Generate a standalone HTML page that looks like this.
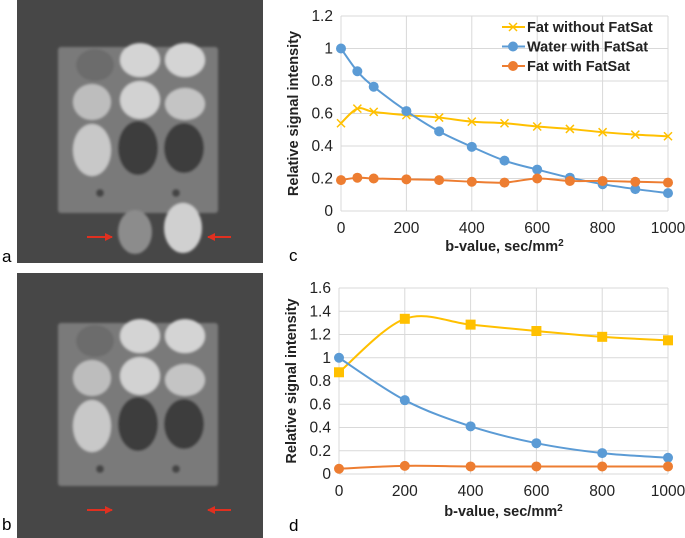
<!DOCTYPE html>
<html><head><meta charset="utf-8">
<style>
body{margin:0;background:#fff;width:685px;height:538px;overflow:hidden;font-family:"Liberation Sans",Arial,sans-serif}
svg{position:absolute;left:0;top:0}
text{font-family:"Liberation Sans",Arial,sans-serif}
</style></head><body>
<svg id="fig" width="685" height="538" viewBox="0 0 685 538">
<defs>
<filter id="bl" x="-20%" y="-20%" width="140%" height="140%"><feGaussianBlur stdDeviation="1.2"/></filter>
<marker id="ah" markerWidth="4" markerHeight="4" refX="3.5" refY="2" orient="auto"><path d="M0,0 L4,2 L0,4 z" fill="#e03020"/></marker>
</defs>
<!-- image a -->
<g>
<rect x="17" y="0" width="246" height="263" fill="#474747"/>
<g filter="url(#bl)">
<rect x="58" y="47" width="160" height="166" rx="3" fill="#7a7a7a"/>
<ellipse cx="95" cy="65" rx="19" ry="16" fill="#6c6c6c"/>
<ellipse cx="140" cy="60" rx="20" ry="17" fill="#d4d4d4"/>
<ellipse cx="185" cy="60" rx="20" ry="17" fill="#d4d4d4"/>
<ellipse cx="92" cy="102" rx="19" ry="18" fill="#bdbdbd"/>
<ellipse cx="140" cy="100" rx="20" ry="19" fill="#d2d2d2"/>
<ellipse cx="185" cy="104" rx="20" ry="16" fill="#c4c4c4"/>
<ellipse cx="92" cy="150" rx="19" ry="26" fill="#c8c8c8"/>
<ellipse cx="138" cy="148" rx="20" ry="27" fill="#3e3e3e"/>
<ellipse cx="184" cy="148" rx="20" ry="25" fill="#3e3e3e"/>
<circle cx="100" cy="193" r="4" fill="#444"/>
<circle cx="176" cy="193" r="4" fill="#444"/>
<ellipse cx="135" cy="232" rx="17" ry="22" fill="#8c8c8c"/>
<ellipse cx="183" cy="228" rx="19" ry="25" fill="#d0d0d0"/>
</g>
<line x1="87" y1="237" x2="112" y2="237" stroke="#e03020" stroke-width="2" marker-end="url(#ah)"/>
<line x1="231" y1="237" x2="208" y2="237" stroke="#e03020" stroke-width="2" marker-end="url(#ah)"/>
</g>
<text x="2" y="262" font-size="17">a</text>
<!-- image b -->
<g>
<rect x="17" y="273" width="246" height="265" fill="#474747"/>
<g transform="translate(0,276)" filter="url(#bl)">
<rect x="58" y="47" width="160" height="163" rx="3" fill="#7a7a7a"/>
<ellipse cx="95" cy="65" rx="19" ry="16" fill="#6c6c6c"/>
<ellipse cx="140" cy="60" rx="20" ry="17" fill="#d4d4d4"/>
<ellipse cx="185" cy="60" rx="20" ry="17" fill="#d4d4d4"/>
<ellipse cx="92" cy="102" rx="19" ry="18" fill="#bdbdbd"/>
<ellipse cx="140" cy="100" rx="20" ry="19" fill="#d2d2d2"/>
<ellipse cx="185" cy="104" rx="20" ry="16" fill="#c4c4c4"/>
<ellipse cx="92" cy="150" rx="19" ry="26" fill="#c8c8c8"/>
<ellipse cx="138" cy="148" rx="20" ry="27" fill="#3e3e3e"/>
<ellipse cx="184" cy="148" rx="20" ry="25" fill="#3e3e3e"/>
<circle cx="100" cy="193" r="4" fill="#444"/>
<circle cx="176" cy="193" r="4" fill="#444"/>
</g>
<line x1="87" y1="510" x2="112" y2="510" stroke="#e03020" stroke-width="2" marker-end="url(#ah)"/>
<line x1="231" y1="510" x2="208" y2="510" stroke="#e03020" stroke-width="2" marker-end="url(#ah)"/>
</g>
<text x="2" y="530" font-size="17">b</text>
<text x="289" y="261" font-size="17">c</text>
<text x="289" y="531" font-size="17">d</text>
<g id="chartC"></g>
<g id="chartD"></g>
</svg>
<script>
const cB = [0,50,100,200,300,400,500,600,700,800,900,1000];
const cFatNoSat = [0.54,0.63,0.61,0.59,0.575,0.55,0.54,0.52,0.505,0.485,0.47,0.46];
const cWaterSat = [1,0.86,0.765,0.615,0.49,0.395,0.31,0.255,0.205,0.165,0.135,0.11];
const cFatSat = [0.19,0.205,0.2,0.195,0.19,0.18,0.175,0.2,0.185,0.185,0.18,0.175];
const cYTicks = ["0","0.2","0.4","0.6","0.8","1","1.2"];
const cXTicks = ["0","200","400","600","800","1000"];
const dB = [0,200,400,600,800,1000];
const dFatNoSat = [0.875,1.335,1.285,1.23,1.18,1.15];
const dWaterSat = [1,0.635,0.41,0.265,0.18,0.14];
const dFatSat = [0.045,0.07,0.065,0.065,0.065,0.065];
const dYTicks = ["0","0.2","0.4","0.6","0.8","1","1.2","1.4","1.6"];
const dXTicks = ["0","200","400","600","800","1000"];
const legendNames = ["Fat without FatSat","Water with FatSat","Fat with FatSat"];

const NS="http://www.w3.org/2000/svg";
function mk(parent,tag,attrs){const e=document.createElementNS(NS,tag);for(const k in attrs)e.setAttribute(k,attrs[k]);parent.appendChild(e);return e;}
function smooth(pts){let d="M"+pts[0][0]+","+pts[0][1];for(let i=0;i<pts.length-1;i++){const p0=pts[Math.max(i-1,0)],p1=pts[i],p2=pts[i+1],p3=pts[Math.min(i+2,pts.length-1)];const t=1/6;d+=" C"+(p1[0]+(p2[0]-p0[0])*t)+","+(p1[1]+(p2[1]-p0[1])*t)+" "+(p2[0]-(p3[0]-p1[0])*t)+","+(p2[1]-(p3[1]-p1[1])*t)+" "+p2[0]+","+p2[1];}return d;}
function marker(g,type,x,y,color){
 let m;
 if(type==="x"){m=mk(g,"path",{d:`M${x-4},${y-4}L${x+4},${y+4}M${x-4},${y+4}L${x+4},${y-4}`,stroke:color,"stroke-width":1.5});}
 else if(type==="sq"){m=mk(g,"rect",{x:x-5,y:y-5,width:10,height:10,fill:color});}
 else {m=mk(g,"circle",{cx:x,cy:y,r:5,fill:color});}
 
 
}
function chart(g,o){
 const X=v=>o.x0+(v-0)/1000*(o.x1-o.x0);
 const Y=v=>o.y0-(v/o.ymax)*(o.y0-o.y1);
 o.yTicks.forEach(t=>{const v=parseFloat(t);const y=Y(v);
  const l=mk(g,"line",{x1:o.x0,x2:o.x1,y1:y,y2:y,stroke:"#d9d9d9","stroke-width":1});
  
  
  const tx=mk(g,"text",{x:o.x0-8,y:y+5,"text-anchor":"end","font-size":15.5,fill:"#222"});tx.textContent=t;
  
  });
 o.xTicks.forEach(t=>{const v=parseFloat(t);const x=X(v);
  const l=mk(g,"line",{x1:x,x2:x,y1:o.y1,y2:o.y0,stroke:"#d9d9d9","stroke-width":1});
  
  
  const tx=mk(g,"text",{x:x,y:o.y0+22,"text-anchor":"middle","font-size":15.5,fill:"#222"});tx.textContent=t;
  
  });
 const yt=mk(g,"text",{x:0,y:0,transform:`translate(${o.ylx},${(o.y0+o.y1)/2}) rotate(-90)`,"text-anchor":"middle","font-size":14.5,"font-weight":"bold",fill:"#222"});yt.textContent="Relative signal intensity";
 
 
 const xt=mk(g,"text",{x:(o.x0+o.x1)/2,y:o.xty,"text-anchor":"middle","font-size":14.5,"font-weight":"bold",fill:"#222"});xt.innerHTML='b-value, sec/mm<tspan font-size="10" dy="-5">2</tspan>';
 
 
 o.series.forEach(s=>{
  const pts=o.b.map((b,i)=>[X(b),Y(s.v[i])]);
  const p=mk(g,"path",{d:smooth(pts),fill:"none",stroke:s.c,"stroke-width":2});
  
  
  pts.forEach(q=>marker(g,s.m,q[0],q[1],s.c));
 });
}
const Yc="#FFC000",Bc="#5B9BD5",Oc="#ED7D31";
const gc=document.getElementById("chartC");
chart(gc,{x0:341,x1:668,y0:211,y1:16,ymax:1.2,yTicks:cYTicks,xTicks:cXTicks,b:cB,ylx:298,xty:251,
 series:[{v:cFatNoSat,c:Yc,m:"x",n:"fat-without-fatsat-line"},{v:cWaterSat,c:Bc,m:"o",n:"water-with-fatsat-line"},{v:cFatSat,c:Oc,m:"o",n:"fat-with-fatsat-line"}]});
const lg=mk(gc,"g",{});


[[Yc,"x"],[Bc,"o"],[Oc,"o"]].forEach((s,i)=>{const y=27+i*19.5;
 const e=mk(lg,"g",{});
 
 
 mk(e,"line",{x1:502,x2:525,y1:y,y2:y,stroke:s[0],"stroke-width":2});
 if(s[1]==="x")mk(e,"path",{d:`M509,${y-4}L517,${y+4}M509,${y+4}L517,${y-4}`,stroke:s[0],"stroke-width":1.5});
 else mk(e,"circle",{cx:513,cy:y,r:5,fill:s[0]});
 const t=mk(e,"text",{x:527,y:y+5,"font-size":14.5,"font-weight":"bold",fill:"#222"});t.textContent=legendNames[i];});
chart(document.getElementById("chartD"),{x0:339,x1:668,y0:474,y1:288,ymax:1.6,yTicks:dYTicks,xTicks:dXTicks,b:dB,ylx:296,xty:516,
 series:[{v:dFatNoSat,c:Yc,m:"sq",n:"fat-without-fatsat-line"},{v:dWaterSat,c:Bc,m:"o",n:"water-with-fatsat-line"},{v:dFatSat,c:Oc,m:"o",n:"fat-with-fatsat-line"}]});
</script>
</body></html>
